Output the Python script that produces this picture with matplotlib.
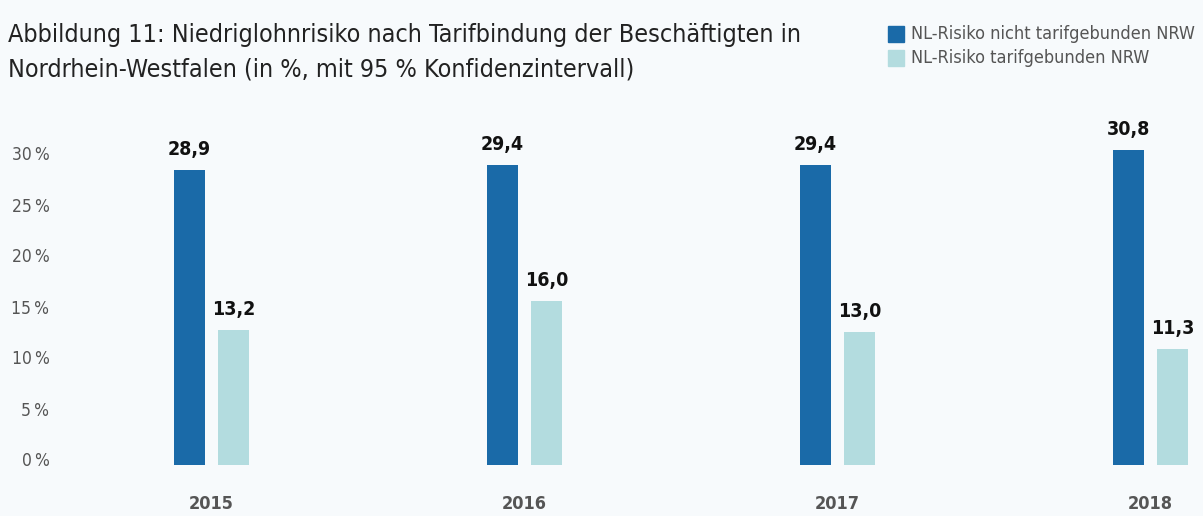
import matplotlib.pyplot as plt
import matplotlib.transforms as mtransforms
from matplotlib.patches import Rectangle

plt.rcParams['font.family'] = ['DejaVu Sans']
plt.rcParams['font.stretch'] = 'condensed'

years = ['2015', '2016', '2017', '2018']
nicht_tarif = [28.9, 29.4, 29.4, 30.8]
tarif = [13.2, 16.0, 13.0, 11.3]
series_names = ['NL-Risiko nicht tarifgebunden NRW', 'NL-Risiko tarifgebunden NRW']
yticks = [0, 5, 10, 15, 20, 25, 30]

dark = '#1a6aa8'
light = '#b3dcdf'
bg = '#f7fafc'
grey = '#555555'

W, H = 1203, 516
fig = plt.figure(figsize=(W / 100, H / 100), dpi=100, facecolor=bg)

# axes in pixel terms: group step 313 px, first group centre at x=211.5, zero line at y=464.5
left_px, width_px = 55, 1140
step = 313
bottom_px, px_per_unit, ymax = 516 - 464.5, 10.2, 33
ax = fig.add_axes([left_px / W, bottom_px / H, width_px / W, ymax * px_per_unit / H])
ax.set_facecolor(bg)
x0 = -(211.5 - left_px) / step
ax.set_xlim(x0, x0 + width_px / step)
ax.set_ylim(0, ymax)

bw = 31 / step
off = 22 / step
xs = range(len(years))
ax.bar([x - off for x in xs], nicht_tarif, width=bw, color=dark, zorder=2)
ax.bar([x + off for x in xs], tarif, width=bw, color=light, zorder=2)

for x, v in zip(xs, nicht_tarif):
    ax.annotate(f'{v:.1f}'.replace('.', ','), (x - off, v), xytext=(0, 8),
                textcoords='offset points', ha='center', va='bottom',
                fontsize=14, fontweight='bold', color='#111111')
for x, v in zip(xs, tarif):
    ax.annotate(f'{v:.1f}'.replace('.', ','), (x + off, v), xytext=(0, 8),
                textcoords='offset points', ha='center', va='bottom',
                fontsize=14, fontweight='bold', color='#111111')

ax.set_xticks(list(xs))
ax.set_xticklabels(years, fontsize=13, fontweight='bold', color=grey)
ax.tick_params(axis='x', length=0, pad=22)
ax.set_yticks(yticks)
ax.set_yticklabels([f'{t}\u2009%' for t in yticks], fontsize=12.5, color=grey)
ax.tick_params(axis='y', length=0, pad=4)
for s in ax.spines.values():
    s.set_visible(False)
shift = mtransforms.ScaledTranslation(0, 5 / 100, fig.dpi_scale_trans)
for lab in ax.yaxis.get_majorticklabels():
    lab.set_transform(lab.get_transform() + shift)

fig.text(8 / W, 1 - 35 / H, 'Abbildung 11: Niedriglohnrisiko nach Tarifbindung der Beschäftigten in',
         fontsize=18, color='#222222', va='center', ha='left')
fig.text(8 / W, 1 - 70 / H, 'Nordrhein-Westfalen (in %, mit 95 % Konfidenzintervall)',
         fontsize=18, color='#222222', va='center', ha='left')

for i, (name, c) in enumerate(zip(series_names, [dark, light])):
    yc = 34 + i * 24
    fig.patches.append(Rectangle((888 / W, 1 - (yc + 8) / H), 16 / W, 16 / H,
                                 color=c, transform=fig.transFigure, figure=fig))
    fig.text(911 / W, 1 - yc / H, name, fontsize=13, color=grey, va='center', ha='left')

fig.savefig('out.png', dpi=100, facecolor=bg)
